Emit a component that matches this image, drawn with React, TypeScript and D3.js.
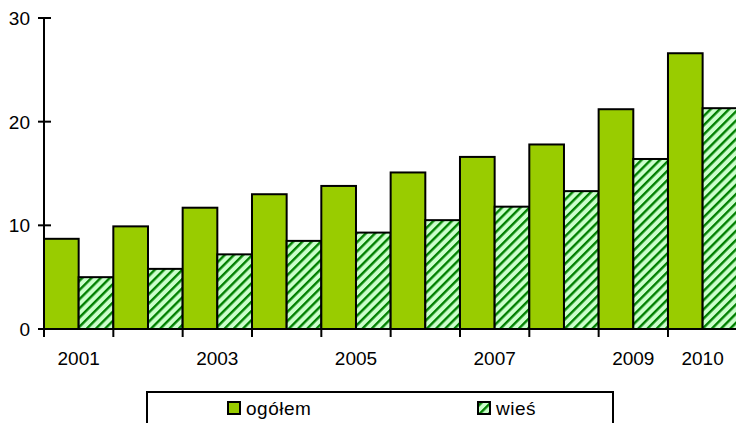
import * as d3 from "d3";
import { useEffect, useRef } from "react";

const years = ["2001", "2002", "2003", "2004", "2005", "2006", "2007", "2008", "2009", "2010"];
const ogolem = [8.7, 9.9, 11.7, 13.0, 13.8, 15.1, 16.6, 17.8, 21.2, 26.6];
const wies = [5.0, 5.8, 7.2, 8.5, 9.3, 10.5, 11.8, 13.3, 16.4, 21.3];
const seriesNames = ["ogółem", "wieś"];
const yTicks = [0, 10, 20, 30];
const xLabels = ["2001", "2003", "2005", "2007", "2009", "2010"];

export default function App() {
    const ref = useRef<SVGSVGElement>(null);

    const width = 736,
        height = 423;

    useEffect(() => {
        const svg = d3.select(ref.current);
        svg.selectAll("*").remove();

        const font = "'Liberation Sans', Arial, sans-serif";

        const defs = svg.append("defs");
        const pat = defs.append("pattern")
            .attr("id", "hatch")
            .attr("patternUnits", "userSpaceOnUse")
            .attr("width", 6.5)
            .attr("height", 6.5)
            .attr("patternTransform", "rotate(45)");
        pat.append("rect").attr("width", 6.5).attr("height", 6.5).attr("fill", "#CCFFCC");
        pat.append("rect").attr("width", 2.4).attr("height", 6.5).attr("fill", "#008000");

        const x0 = d3.scaleBand().domain(years).range([44, 737.3]).padding(0);
        const x1 = d3.scaleBand().domain(seriesNames).range([0, x0.bandwidth()]).padding(0);
        const y = d3.scaleLinear().domain([0, 30]).range([329, 18]);

        const fills = ["#99CC00", "url(#hatch)"];
        const values = [ogolem, wies];

        const g = svg.append("g");

        years.forEach((yr, i) => {
            seriesNames.forEach((s, j) => {
                const v = values[j][i];
                g.append("rect")
                    .attr("x", x0(yr)! + x1(s)!)
                    .attr("y", y(v))
                    .attr("width", x1.bandwidth())
                    .attr("height", y(0) - y(v))
                    .attr("fill", fills[j])
                    .attr("stroke", "black")
                    .attr("stroke-width", 2);
            });
        });

        // y axis
        g.append("line")
            .attr("x1", 44).attr("x2", 44)
            .attr("y1", y(30)).attr("y2", y(0))
            .attr("stroke", "black").attr("stroke-width", 2);
        yTicks.forEach((t) => {
            g.append("line")
                .attr("x1", 38).attr("x2", 51)
                .attr("y1", y(t)).attr("y2", y(t))
                .attr("stroke", "black").attr("stroke-width", 2);
            g.append("text")
                .attr("x", 30)
                .attr("y", y(t))
                .attr("dy", "0.36em")
                .attr("text-anchor", "end")
                .style("font-family", font)
                .style("font-size", "19px")
                .text(t);
        });

        // x axis
        g.append("line")
            .attr("x1", 44).attr("x2", width)
            .attr("y1", y(0)).attr("y2", y(0))
            .attr("stroke", "black").attr("stroke-width", 2);
        years.forEach((yr) => {
            g.append("line")
                .attr("x1", x0(yr)!).attr("x2", x0(yr)!)
                .attr("y1", y(0)).attr("y2", y(0) + 8)
                .attr("stroke", "black").attr("stroke-width", 2);
        });
        xLabels.forEach((yr) => {
            g.append("text")
                .attr("x", x0(yr)! + x0.bandwidth() / 2)
                .attr("y", 365)
                .attr("text-anchor", "middle")
                .style("font-family", font)
                .style("font-size", "19px")
                .text(yr);
        });

        // legend
        const lg = svg.append("g");
        lg.append("rect")
            .attr("x", 147).attr("y", 392)
            .attr("width", 466).attr("height", 40)
            .attr("fill", "white")
            .attr("stroke", "black").attr("stroke-width", 2);
        const legendX = [228, 478];
        seriesNames.forEach((s, j) => {
            lg.append("rect")
                .attr("x", legendX[j]).attr("y", 402)
                .attr("width", 12).attr("height", 12)
                .attr("fill", fills[j])
                .attr("stroke", "black").attr("stroke-width", 2);
            lg.append("text")
                .attr("x", legendX[j] + 18)
                .attr("y", 415)
                .style("font-family", font)
                .style("font-size", "19px")
                .style("letter-spacing", "0.5px")
                .text(s);
        });
    }, []);

    return (
        <svg ref={ref} width={width} height={height}
            style={{ position: "fixed", left: 0, top: 0, background: "white" }} />
    );
}
